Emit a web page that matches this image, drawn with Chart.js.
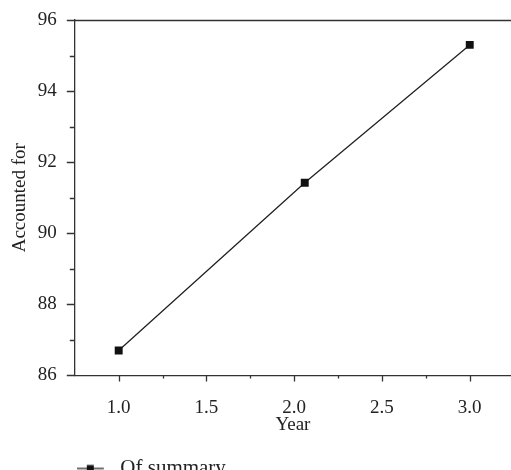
<!DOCTYPE html>
<html>
<head>
<meta charset="utf-8">
<script src="https://cdn.jsdelivr.net/npm/chart.js@4"></script>
<style>
  html, body { margin: 0; padding: 0; background: #fff; overflow: hidden; }
  #wrap { width: 511px; height: 489px; position: relative; }
</style>
</head>
<body>
<div id="wrap"><canvas id="lineChart"></canvas></div>
<script>
// datos
const years = [1.0, 2.06, 3.0];
const accounted = [86.7, 91.42, 95.3];
const seriesName = 'Of summary';
const xTitle = 'Year';
const yTitle = 'Accounted for';

const ink = '#222';
const axisColor = '#333';
const fontFace = "'Liberation Serif', 'Times New Roman', serif";

// icono de leyenda: línea con cuadrado
const legendIcon = document.createElement('canvas');
legendIcon.width = 33;
legendIcon.height = 12;
(function () {
    const c = legendIcon.getContext('2d');
    c.strokeStyle = ink;
    c.lineWidth = 1.3;
    c.beginPath();
    c.moveTo(0, 6);
    c.lineTo(27, 6);
    c.stroke();
    c.fillStyle = '#111';
    c.fillRect(10, 2.5, 7, 7);
})();

// marcas mayores y menores de los ejes, y borde superior
const axisExtras = {
    id: 'axisExtras',
    afterDraw(chart) {
        const ctx = chart.ctx;
        const a = chart.chartArea;
        const x = chart.scales.x;
        const y = chart.scales.y;
        ctx.save();
        ctx.strokeStyle = axisColor;
        ctx.lineWidth = 1.3;
        ctx.beginPath();
        const yt = y.ticks.map(t => t.value);
        yt.forEach((v, i) => {
            const p = Math.round(y.getPixelForValue(v)) + 0.5;
            ctx.moveTo(a.left - 8, p);
            ctx.lineTo(a.left, p);
            if (i < yt.length - 1) {
                const m = Math.round(y.getPixelForValue((v + yt[i + 1]) / 2)) + 0.5;
                ctx.moveTo(a.left - 5, m);
                ctx.lineTo(a.left, m);
            }
        });
        const xt = x.ticks.map(t => t.value);
        xt.forEach((v, i) => {
            const p = Math.round(x.getPixelForValue(v)) + 0.5;
            ctx.moveTo(p, a.bottom);
            ctx.lineTo(p, a.bottom + 6);
            const m = Math.round(x.getPixelForValue(v + 0.25)) + 0.5;
            if (m < a.right) {
                ctx.moveTo(m, a.bottom);
                ctx.lineTo(m, a.bottom + 3);
            }
        });
        // borde superior
        const top = Math.round(a.top) + 0.5;
        ctx.moveTo(a.left - 8, top);
        ctx.lineTo(a.right, top);
        ctx.stroke();
        ctx.restore();
    }
};

const chartData = {
    datasets: [{
        label: seriesName,
        data: years.map((v, i) => ({ x: v, y: accounted[i] })),
        showLine: true,
        borderColor: ink,
        borderWidth: 1.3,
        backgroundColor: '#111',
        pointStyle: 'rect',
        pointRadius: 5.6,
        pointBorderWidth: 0,
        pointBackgroundColor: '#111',
        tension: 0
    }]
};

const config = {
    type: 'scatter',
    data: chartData,
    plugins: [axisExtras],
    options: {
        responsive: true,
        maintainAspectRatio: false,
        animation: false,
        layout: {
            autoPadding: false,
            padding: { top: 20, right: 0, left: 8, bottom: 0 }
        },
        plugins: {
            legend: {
                position: 'bottom',
                align: 'start',
                fullSize: false,
                labels: {
                    usePointStyle: true,
                    pointStyle: legendIcon,
                    pointStyleWidth: 33,
                    padding: 2,
                    color: ink,
                    font: { family: fontFace, size: 21 },
                    generateLabels: chart => [{
                        text: seriesName,
                        pointStyle: legendIcon,
                        fontColor: ink,
                        datasetIndex: 0
                    }]
                }
            },
            tooltip: { enabled: false }
        },
        scales: {
            x: {
                type: 'linear',
                min: 0.75,
                max: 3.235,
                grid: { display: true, drawOnChartArea: false, drawTicks: false },
                border: { display: true, color: axisColor, width: 1.3 },
                ticks: {
                    stepSize: 0.5,
                    includeBounds: false,
                    padding: 21,
                    color: ink,
                    font: { family: fontFace, size: 19 },
                    maxRotation: 0,
                    callback: v => v.toFixed(1)
                },
                title: {
                    display: true,
                    text: xTitle,
                    color: ink,
                    font: { family: fontFace, size: 19 },
                    padding: { top: -27, bottom: 20 }
                }
            },
            y: {
                type: 'linear',
                min: 86,
                max: 96,
                grid: { display: true, drawOnChartArea: false, drawTicks: false },
                border: { display: true, color: axisColor, width: 1.3 },
                afterFit: scale => {
                    // sin margen extra arriba por la separación de etiquetas
                    scale.paddingTop = 0;
                },
                ticks: {
                    stepSize: 2,
                    padding: 18,
                    color: ink,
                    font: { family: fontFace, size: 19 },
                    callback: v => String(v)
                },
                title: {
                    display: true,
                    text: yTitle,
                    color: ink,
                    font: { family: fontFace, size: 19 },
                    padding: { top: 1, bottom: -12 }
                }
            }
        }
    }
};

window.onload = function () {
    const ctx = document.getElementById('lineChart').getContext('2d');
    window.lineChart = new Chart(ctx, config);
};
</script>
</body>
</html>
